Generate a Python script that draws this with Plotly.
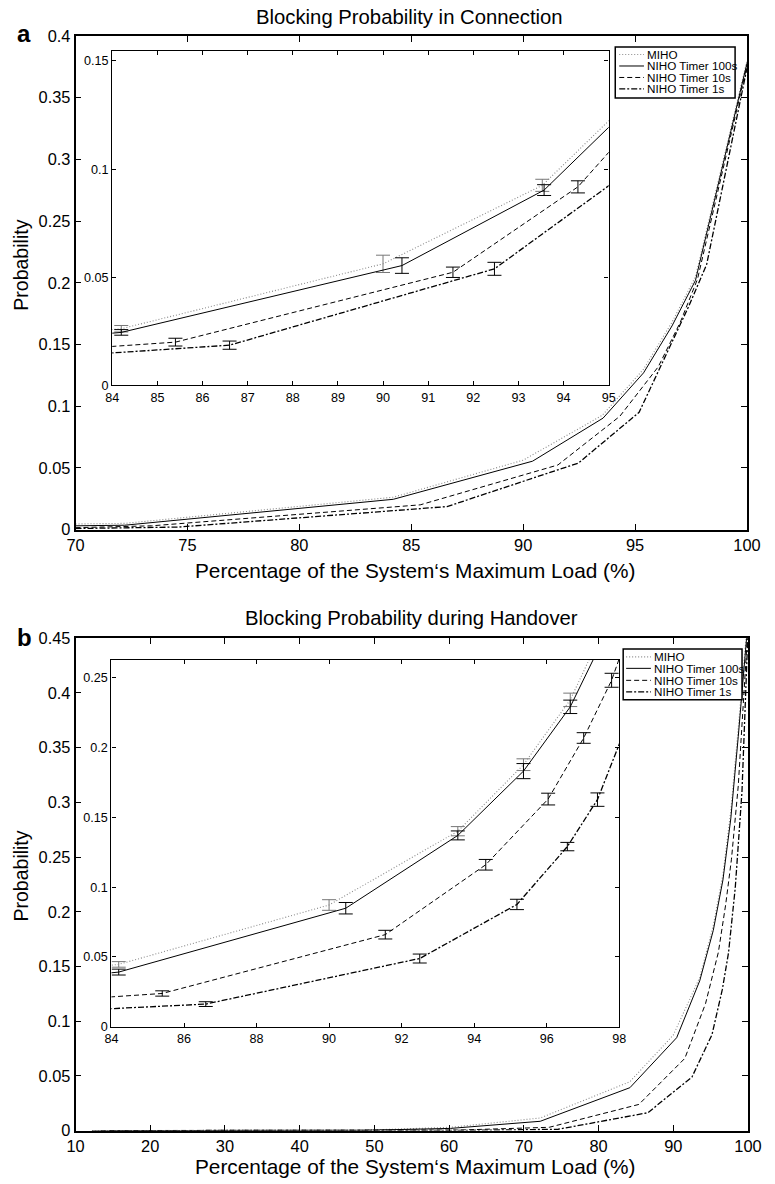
import plotly.graph_objects as go

W, H = 775, 1184
# Calibration measured from earlier renders: the page keeps an 8px body margin and the
# captured page (791x1200) is shown at 775x1184. Positions below are given in target
# picture pixels and converted to figure coordinates.
PAD = 8
SX, SY = 775 / 791, 1184 / 1200

# ---------------- data: (a) Blocking Probability in Connection ----------------
conn_miho_x = [70, 72.2, 84.2, 90.0, 93.53, 95.38, 96.65, 97.7, 100]
conn_miho_y = [0.0045, 0.005, 0.0262, 0.0562, 0.0925, 0.130, 0.168, 0.205, 0.380]
conn_miho_e = [0.001, 0.001, 0.0015, 0.0040, 0.0028, 0.003, 0.003, 0.003, 0.003]

conn_n100_x = [70, 72.2, 84.2, 90.42, 93.57, 95.38, 96.65, 97.7, 100]
conn_n100_y = [0.003, 0.0035, 0.0245, 0.0554, 0.0903, 0.127, 0.165, 0.202, 0.378]
conn_n100_e = [0.001, 0.001, 0.0013, 0.0036, 0.0025, 0.003, 0.003, 0.003, 0.003]

conn_n10_x = [70, 73.4, 85.4, 91.55, 94.32, 96.04, 97.02, 97.79, 100]
conn_n10_y = [0.0015, 0.003, 0.020, 0.0523, 0.0918, 0.132, 0.168, 0.203, 0.376]
conn_n10_e = [0.001, 0.001, 0.0018, 0.0024, 0.0028, 0.003, 0.003, 0.003, 0.003]

conn_n1_x = [70, 74.6, 86.6, 92.47, 95.18, 96.57, 97.4, 98.2, 100]
conn_n1_y = [0.0008, 0.002, 0.0186, 0.0539, 0.095, 0.149, 0.181, 0.215, 0.374]
conn_n1_e = [0.001, 0.001, 0.0019, 0.0030, 0.003, 0.003, 0.003, 0.003, 0.003]

# ---------------- data: (b) Blocking Probability during Handover ----------------
ho_miho_x = [12.2, 24.2, 36.2, 48.2, 60.2, 72.2, 84.2, 90.0, 93.55, 95.36, 96.65, 97.7, 98.7, 100]
ho_miho_y = [0, 0, 0, 0.0003, 0.003, 0.0115, 0.0447, 0.0872, 0.140, 0.1876, 0.234, 0.292, 0.368, 0.470]
ho_miho_e = [0, 0, 0, 0, 0, 0, 0.0020, 0.0038, 0.0033, 0.0042, 0.0048, 0.005, 0.005, 0.005]

ho_n100_x = [12.2, 24.2, 36.2, 48.2, 60.2, 72.2, 84.2, 90.46, 93.55, 95.36, 96.65, 97.7, 98.7, 100]
ho_n100_y = [0, 0, 0, 0.0002, 0.002, 0.0085, 0.0392, 0.0849, 0.137, 0.183, 0.229, 0.285, 0.360, 0.465]
ho_n100_e = [0, 0, 0, 0, 0, 0, 0.0021, 0.0041, 0.0032, 0.0054, 0.0048, 0.005, 0.005, 0.005]

ho_n10_x = [13.4, 25.4, 37.4, 49.4, 61.4, 73.4, 85.4, 91.55, 94.32, 96.04, 97.02, 97.79, 98.7, 100]
ho_n10_y = [0, 0, 0, 0, 0.0005, 0.003, 0.0239, 0.066, 0.116, 0.163, 0.2067, 0.248, 0.315, 0.460]
ho_n10_e = [0, 0, 0, 0, 0, 0, 0.0019, 0.0031, 0.0038, 0.0042, 0.0038, 0.005, 0.005, 0.005]

ho_n1_x = [14.6, 26.6, 38.6, 50.6, 62.6, 74.6, 86.6, 92.5, 95.18, 96.57, 97.4, 98.3, 99.2, 100]
ho_n1_y = [0, 0, 0, 0, 0.0002, 0.0012, 0.0163, 0.0489, 0.0876, 0.129, 0.1626, 0.222, 0.310, 0.455]
ho_n1_e = [0, 0, 0, 0, 0, 0, 0.0017, 0.0032, 0.0037, 0.0030, 0.0048, 0.005, 0.005, 0.005]

series_names = ["MIHO", "NIHO Timer 100s", "NIHO Timer 10s", "NIHO Timer 1s"]

# ---------------- styles ----------------
FONT = "Liberation Sans, Arial, Helvetica, sans-serif"
styles = [
    dict(color="#8a8a8a", width=1.1, dash="1px,2px"),
    dict(color="black", width=1.0, dash="solid"),
    dict(color="black", width=1.0, dash="5px,3px"),
    dict(color="black", width=1.3, dash="6px,2px,2px,2px"),
]
err_colors = ["#777777", "black", "black", "black"]

def px_x(p):
    return (p / SX - PAD) / W

def px_y(p):
    return 1 - (p / SY - PAD) / H

fig = go.Figure()

conn = [(conn_miho_x, conn_miho_y, conn_miho_e), (conn_n100_x, conn_n100_y, conn_n100_e),
        (conn_n10_x, conn_n10_y, conn_n10_e), (conn_n1_x, conn_n1_y, conn_n1_e)]
ho = [(ho_miho_x, ho_miho_y, ho_miho_e), (ho_n100_x, ho_n100_y, ho_n100_e),
      (ho_n10_x, ho_n10_y, ho_n10_e), (ho_n1_x, ho_n1_y, ho_n1_e)]

def add_series(data, xa, ya, with_err):
    for i, (xs, ys, es) in enumerate(data):
        kw = {}
        if with_err:
            kw["error_y"] = dict(type="data", array=es, visible=True, thickness=1,
                                 width=7, color=err_colors[i])
        fig.add_trace(go.Scatter(x=xs, y=ys, mode="lines", name=series_names[i],
                                 line=styles[i], xaxis=xa, yaxis=ya,
                                 showlegend=False, hoverinfo="skip", **kw))

add_series(conn, "x", "y", False)
add_series(conn, "x2", "y2", True)
add_series(ho, "x3", "y3", False)
add_series(ho, "x4", "y4", True)

# domains in target-picture pixels
top_main = dict(x=(75, 753), y=(35, 529.4))
top_in = dict(x=(112.1, 613.3), y=(50, 385))
bot_main = dict(x=(75, 754), y=(638.3, 1131.6))
bot_in = dict(x=(111.3, 624), y=(660, 1027.7))

def dom(d):
    return [px_x(d["x"][0]), px_x(d["x"][1])], [px_y(d["y"][1]), px_y(d["y"][0])]

def axis(domain, rng, dtick, anchor, size, ticklen, lw):
    return dict(domain=domain, range=rng, dtick=dtick, tick0=0, anchor=anchor,
                showline=True, mirror="ticks", linecolor="black", linewidth=lw,
                ticks="inside", ticklen=ticklen, tickwidth=1, tickcolor="black",
                showgrid=False, zeroline=False, fixedrange=True,
                tickfont=dict(family=FONT, size=size, color="black"))

dx, dy = dom(top_main)
fig.update_layout(xaxis=axis(dx, [70, 100], 5, "y", 16.4, 6, 1.6),
                  yaxis=axis(dy, [0, 0.4], 0.05, "x", 16.4, 6, 1.6))
dx, dy = dom(top_in)
fig.update_layout(xaxis2=axis(dx, [84, 95], 1, "y2", 12.6, 4, 1.3),
                  yaxis2=axis(dy, [0, 0.1546], 0.05, "x2", 12.6, 4, 1.3))
dx, dy = dom(bot_main)
fig.update_layout(xaxis3=axis(dx, [10, 100], 10, "y3", 16.4, 6, 1.6),
                  yaxis3=axis(dy, [0, 0.45], 0.05, "x3", 16.4, 6, 1.6))
dx, dy = dom(bot_in)
fig.update_layout(xaxis4=axis(dx, [84, 98], 2, "y4", 12.6, 4, 1.3),
                  yaxis4=axis(dy, [0, 0.2626], 0.05, "x4", 12.6, 4, 1.3))

shapes = []
# white backgrounds behind insets (occlude main-plot lines)
for xa, ya, xr, yr in [("x2", "y2", [84, 95], [0, 0.1546]), ("x4", "y4", [84, 98], [0, 0.2626])]:
    shapes.append(dict(type="rect", xref=xa, yref=ya, x0=xr[0], x1=xr[1], y0=yr[0], y1=yr[1],
                       fillcolor="white", line=dict(width=0), layer="below"))

annotations = []

def legend(box, sample_x, text_x, rows):
    x0, x1, y0, y1 = box
    shapes.append(dict(type="rect", xref="paper", yref="paper",
                       x0=px_x(x0), x1=px_x(x1), y0=px_y(y1), y1=px_y(y0),
                       fillcolor="white", line=dict(color="black", width=1.5), layer="above"))
    for i, ry in enumerate(rows):
        st = styles[i]
        shapes.append(dict(type="line", xref="paper", yref="paper",
                           x0=px_x(sample_x[0]), x1=px_x(sample_x[1]), y0=px_y(ry), y1=px_y(ry),
                           line=dict(color=st["color"], width=st["width"], dash=st["dash"]),
                           layer="above"))
        annotations.append(dict(text=series_names[i], xref="paper", yref="paper",
                                x=px_x(text_x), y=px_y(ry), xanchor="left", yanchor="middle",
                                showarrow=False, font=dict(family=FONT, size=11.7, color="black")))

legend((620, 741, 46, 97), (624, 649), 650, [53.5, 65, 76.5, 88])
legend((628, 748, 649, 700), (631, 656), 657, [657, 668.5, 680.5, 692])

def text(t, x, y, size, bold=False, angle=0, xanchor="center"):
    annotations.append(dict(text=("<b>%s</b>" % t) if bold else t, xref="paper", yref="paper",
                            x=px_x(x), y=px_y(y), xanchor=xanchor, yanchor="middle",
                            textangle=angle, showarrow=False,
                            font=dict(family=FONT, size=size, color="black")))

text("Blocking Probability in Connection", 412, 16, 20.3)
text("Blocking Probability during Handover", 414, 618, 20.3)
text("a", 23, 32, 24, bold=True)
text("b", 23, 638, 24, bold=True)
text("Probability", 20, 265, 19.5, angle=-90)
text("Probability", 20, 877, 19.5, angle=-90)
text("Percentage of the System\u2018s Maximum Load (%)", 418, 570, 20.8)
text("Percentage of the System\u2018s Maximum Load (%)", 418, 1168, 20.8)

fig.update_layout(width=W, height=H, margin=dict(l=0, r=0, t=0, b=0),
                  paper_bgcolor="white", plot_bgcolor="white",
                  shapes=shapes, annotations=annotations, showlegend=False)

fig.write_html("out.html")
